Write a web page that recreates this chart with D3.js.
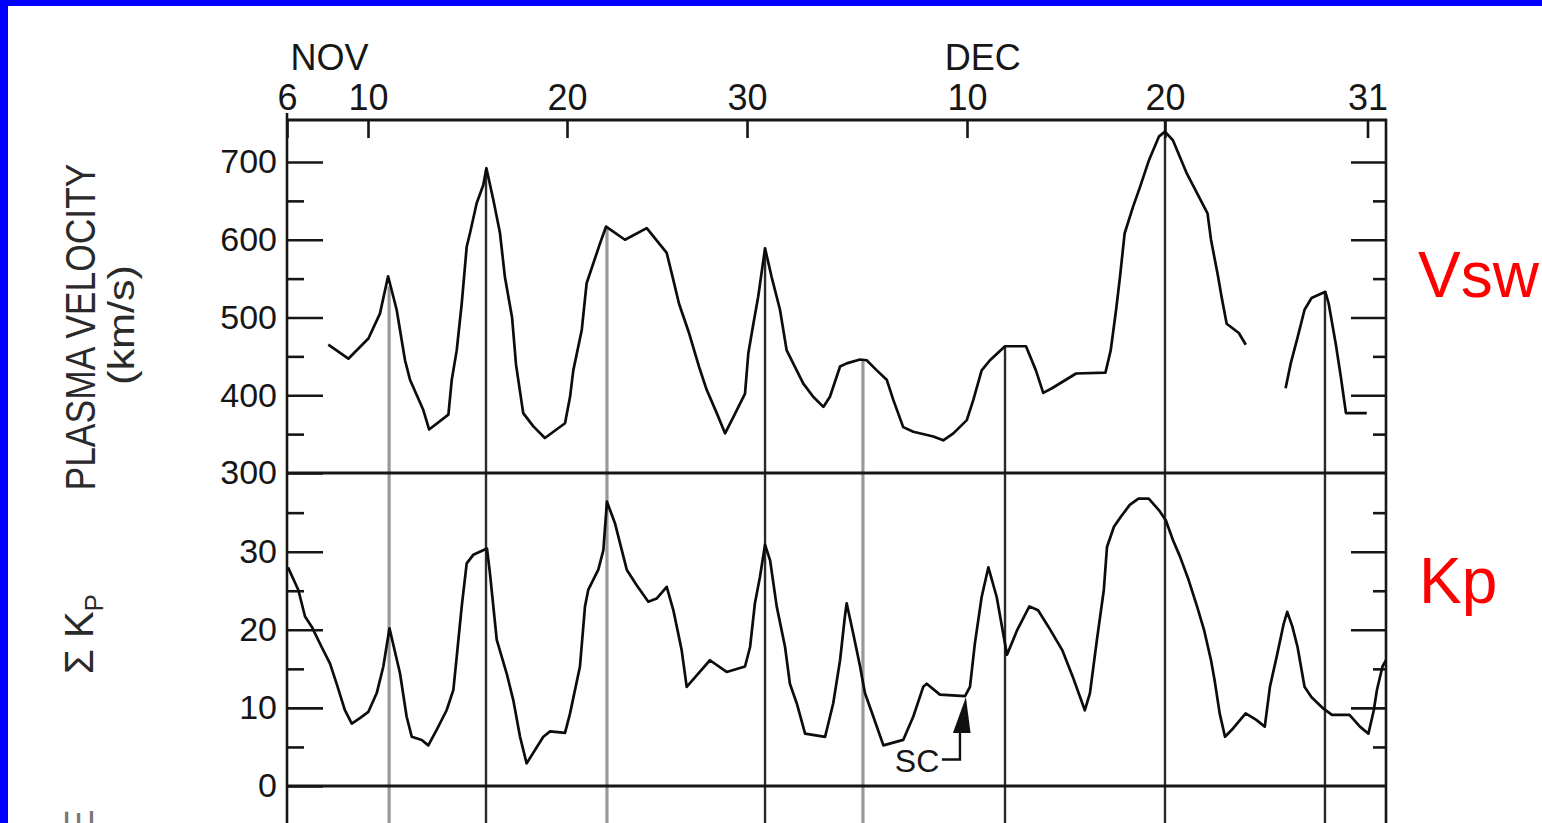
<!DOCTYPE html>
<html>
<head>
<meta charset="utf-8">
<script src="https://cdn.jsdelivr.net/npm/d3@7"></script>
<style>
html, body { margin: 0; padding: 0; background: #fff; overflow: hidden; }
svg { display: block; }
text { font-family: "Liberation Sans", Arial, sans-serif; }
</style>
</head>
<body>
<div id="frame"></div>
<script>

// day 0 = Nov 6; the scanned time axis is not quite uniform, so the scale is calibrated on the labelled days
var dayAnchors = [0, 4, 14, 24, 34, 44, 55, 56];
var dayPixels = [287, 368, 567, 747, 967, 1165, 1367.5, 1386];

var dateTicks = [0, 4, 14, 24, 34, 44, 55];
var dateLabels = ["6", "10", "20", "30", "10", "20", "31"];
var months = ["NOV", "DEC"];
var monthDays = [2.1, 34.8];

var vTicks = [300, 400, 500, 600, 700];
var vMinor = [350, 450, 550, 650];
var kpTicks = [0, 10, 20, 30];
var kpMinor = [5, 15, 25, 35];

// plasma velocity (km/s), null = data gap
var vswDay = [2.04, 3.03, 4.02, 4.60, 5.01, 5.44, 5.86, 6.11, 6.78, 7.07,
  8.04, 8.21, 8.46, 8.71, 8.96, 9.13, 9.46, 9.79, 9.95, 10.30,
  10.63, 10.88, 11.24, 11.44, 11.80, 12.31, 12.89, 13.90, 14.17, 14.35,
  14.82, 15.09, 15.83, 16.17, 17.22, 18.43, 19.54, 19.89, 20.22, 20.78,
  21.33, 21.76, 22.32, 22.78, 23.24, 23.89, 24.06, 24.29, 24.51, 24.82,
  25.12, 25.50, 25.80, 26.10, 26.56, 27.01, 27.47, 27.77, 28.23, 28.53,
  29.14, 29.44, 29.90, 30.35, 30.65, 31.10, 31.56, 32.47, 32.92, 33.38,
  33.99, 34.32, 34.74, 35.16, 35.92, 36.98, 37.48, 37.85, 38.29, 39.51,
  40.99, 41.26, 41.53, 41.73, 41.96, 42.38, 42.74, 43.20, 43.70, 44.00,
  44.43, 45.19, 45.74, 46.31, 46.50, 46.88, 47.07, 47.35, 48.01, 48.39,
  49.5, 50.55, 50.83, 51.21, 51.58, 51.96, 52.71, 52.89, 53.27, 53.55, 53.83, 54.96];
var vswVal = [465, 447, 473, 505, 553, 510, 445, 420, 381, 356,
  375, 420, 458, 518, 591, 609, 647, 670, 692, 651,
  609, 552, 500, 439, 377, 360, 345, 364, 398, 432,
  484, 544, 595, 617, 600, 615, 583, 550, 518, 480,
  437, 407, 377, 351, 372, 402, 454, 492, 527, 589,
  552, 510, 458, 441, 415, 398, 385, 398, 437, 441,
  446, 445, 432, 420, 394, 359, 353, 347, 342, 351,
  368, 394, 432, 445, 463, 463, 432, 403, 409, 428,
  429, 458, 510, 553, 608, 642, 668, 703, 733, 739,
  728, 685, 660, 634, 600, 553, 527, 492, 480, 465,
  null, 409, 441, 475, 510, 525, 533, 518, 467, 424, 377, 377];

// sum Kp
var kpDay = [0.05, 0.56, 0.89, 1.22, 1.71, 2.12, 2.45, 2.86, 3.20, 3.60,
  4.02, 4.44, 4.77, 5.08, 5.61, 5.94, 6.20, 6.70, 7.03, 7.45,
  7.95, 8.29, 8.46, 8.71, 8.96, 9.29, 9.98, 10.13, 10.47, 10.97,
  11.30, 11.64, 11.97, 12.81, 13.15, 13.90, 14.17, 14.72, 15.00, 15.18,
  15.74, 16.02, 16.22, 16.67, 17.32, 17.87, 18.52, 18.98, 19.54, 19.91,
  20.37, 20.65, 21.29, 21.94, 22.87, 23.89, 24.14, 24.36, 24.59, 24.82,
  25.05, 25.35, 25.73, 25.95, 26.26, 26.64, 27.55, 27.92, 28.23, 28.45,
  28.53, 28.83, 29.14, 29.36, 29.74, 30.20, 31.10, 31.56, 32.01, 32.17,
  32.77, 33.91, 34.15, 34.40, 34.74, 35.08, 35.50, 35.83, 36.02, 36.54,
  37.15, 37.59, 38.11, 38.81, 39.34, 39.95, 40.21, 40.56, 40.91, 41.07,
  41.42, 41.78, 42.22, 42.66, 43.18, 43.70, 44.05, 44.43, 44.81, 45.28,
  45.74, 46.12, 46.50, 46.69, 46.97, 47.26, 47.63, 48.38, 48.94, 49.42,
  49.70, 50.07, 50.45, 50.64, 50.92, 51.20, 51.58, 51.95, 52.61, 53.07,
  54.02, 54.59, 55.05, 55.34, 55.51, 55.81, 56.0];
var kpVal = [28.0, 25.1, 21.7, 20.4, 17.8, 15.7, 13.1, 9.7, 8.0, 8.7,
  9.5, 11.9, 15.3, 20.2, 14.4, 8.9, 6.3, 5.9, 5.2, 7.2,
  9.7, 12.3, 16.6, 23.0, 28.5, 29.6, 30.4, 27.2, 18.7, 14.4,
  11.0, 6.3, 2.9, 6.3, 7.0, 6.8, 9.3, 15.3, 23.0, 25.1,
  27.7, 30.2, 36.4, 33.6, 27.7, 25.7, 23.6, 24.0, 25.5, 22.5,
  17.4, 12.7, 14.4, 16.1, 14.6, 15.3, 17.8, 23.4, 26.8, 30.9,
  28.9, 23.0, 17.8, 13.1, 10.6, 6.7, 6.3, 10.6, 16.1, 21.7,
  23.4, 19.5, 15.3, 11.9, 8.9, 5.2, 5.9, 8.9, 12.7, 13.1,
  11.7, 11.5, 12.7, 18.3, 24.2, 28.0, 24.2, 19.5, 16.8, 20.0,
  23.0, 22.5, 20.4, 17.4, 14.0, 9.7, 11.9, 18.7, 25.1, 30.6,
  33.2, 34.5, 36.0, 36.8, 36.8, 35.3, 34.0, 31.5, 29.4, 26.4,
  23.0, 20.0, 16.1, 13.6, 9.3, 6.3, 7.2, 9.3, 8.5, 7.6,
  12.7, 16.6, 20.8, 22.3, 20.4, 17.8, 12.7, 11.4, 9.9, 9.1,
  9.1, 7.6, 6.7, 9.7, 12.3, 15.3, 16.1];

// event markers: day and the velocity where the marker starts
var eventDays = [5.06, 9.93, 16.22, 24.82, 29.27, 35.92, 44.00, 52.69];
var eventTopV = [540, 690, 615, 587, 445, 463, 754, 533];

// storm sudden commencement arrow
var scLabelDay = 31.73, scLabelKp = 1.8;
var scStem = [[32.86, 3.4], [33.68, 3.4], [33.68, 6.8]];
var scHead = [[33.36, 6.8], [34.18, 6.8], [33.95, 11.4]];


var W = 1542, H = 823;
var svg = d3.select('#frame').append('svg').attr('width', W).attr('height', H);

svg.append('rect').attr('width', W).attr('height', H).attr('fill', '#fff');

var x = d3.scaleLinear().domain(dayAnchors).range(dayPixels);
var yV = d3.scaleLinear().domain([300, 754]).range([473, 120]);
var yK = d3.scaleLinear().domain([0, 40]).range([786, 473.6]);

var ink = '#161616';

// event lines go behind everything
eventDays.forEach(function(d, i) {
  var faded = i == 0 || i == 2 || i == 4;
  svg.append('line')
    .attr('x1', x(d)).attr('x2', x(d))
    .attr('y1', yV(eventTopV[i])).attr('y2', H)
    .attr('stroke', faded ? '#999' : '#2a2a2a')
    .attr('stroke-width', faded ? 3.2 : 2.4);
});

function styleAxis(g) {
  g.select('.domain').remove();
  g.selectAll('.tick line').attr('stroke', ink).attr('stroke-width', 2.6);
  g.selectAll('.tick text').attr('fill', ink).attr('font-family', '"Liberation Sans", Arial, sans-serif');
}

// left velocity axis
svg.append('g').attr('transform', 'translate(287,0)')
  .call(d3.axisLeft(yV).tickValues(vTicks).tickSizeInner(-36).tickSizeOuter(0).tickPadding(10))
  .call(styleAxis)
  .call(function(g) { g.selectAll('.tick text').attr('font-size', 34); });
svg.append('g').attr('transform', 'translate(287,0)')
  .call(d3.axisLeft(yV).tickValues(vMinor).tickSizeInner(-17).tickSizeOuter(0).tickFormat(''))
  .call(styleAxis);

// left Kp axis
svg.append('g').attr('transform', 'translate(287,0)')
  .call(d3.axisLeft(yK).tickValues(kpTicks).tickSizeInner(-36).tickSizeOuter(0).tickPadding(10))
  .call(styleAxis)
  .call(function(g) { g.selectAll('.tick text').attr('font-size', 34); });
svg.append('g').attr('transform', 'translate(287,0)')
  .call(d3.axisLeft(yK).tickValues(kpMinor).tickSizeInner(-17).tickSizeOuter(0).tickFormat(''))
  .call(styleAxis);

// right side ticks, no labels
svg.append('g').attr('transform', 'translate(1386,0)')
  .call(d3.axisLeft(yV).tickValues(vTicks.slice(1)).tickSizeInner(35).tickSizeOuter(0).tickFormat(''))
  .call(styleAxis);
svg.append('g').attr('transform', 'translate(1386,0)')
  .call(d3.axisLeft(yV).tickValues(vMinor).tickSizeInner(13).tickSizeOuter(0).tickFormat(''))
  .call(styleAxis);
svg.append('g').attr('transform', 'translate(1386,0)')
  .call(d3.axisLeft(yK).tickValues(kpTicks.slice(1)).tickSizeInner(35).tickSizeOuter(0).tickFormat(''))
  .call(styleAxis);
svg.append('g').attr('transform', 'translate(1386,0)')
  .call(d3.axisLeft(yK).tickValues(kpMinor).tickSizeInner(13).tickSizeOuter(0).tickFormat(''))
  .call(styleAxis);

// top date axis
svg.append('g').attr('transform', 'translate(0,120)')
  .call(d3.axisTop(x).tickValues(dateTicks).tickSizeInner(-18).tickSizeOuter(0).tickPadding(10)
    .tickFormat(function(d, i) { return dateLabels[i]; }))
  .call(styleAxis)
  .call(function(g) { g.selectAll('.tick text').attr('font-size', 36); });

svg.selectAll('.month').data(months).enter().append('text')
  .attr('class', 'month')
  .attr('x', function(d, i) { return x(monthDays[i]); })
  .attr('y', 70)
  .attr('text-anchor', 'middle')
  .attr('font-size', 36)
  .attr('fill', ink)
  .text(function(d) { return d; });

// frame lines
var frame = svg.append('g').attr('stroke', ink).attr('fill', 'none');
frame.append('line').attr('x1', 287).attr('x2', 287).attr('y1', 113).attr('y2', H).attr('stroke-width', 2.6);
frame.append('line').attr('x1', 1386).attr('x2', 1386).attr('y1', 119).attr('y2', H).attr('stroke-width', 2.6);
frame.append('line').attr('x1', 287).attr('x2', 1387).attr('y1', yV(754)).attr('y2', yV(754)).attr('stroke-width', 3.2);
frame.append('line').attr('x1', 287).attr('x2', 1387).attr('y1', yV(300)).attr('y2', yV(300)).attr('stroke-width', 3.2);
frame.append('line').attr('x1', 287).attr('x2', 1387).attr('y1', yK(0)).attr('y2', yK(0)).attr('stroke-width', 2.8);

// curves
var vswData = vswDay.map(function(d, i) { return {d: d, v: vswVal[i]}; });
var kpData = kpDay.map(function(d, i) { return {d: d, v: kpVal[i]}; });

var vLine = d3.line()
  .defined(function(p) { return p.v != null; })
  .x(function(p) { return x(p.d); })
  .y(function(p) { return yV(p.v); });
var kLine = d3.line()
  .x(function(p) { return x(p.d); })
  .y(function(p) { return yK(p.v); });

svg.append('path').datum(vswData).attr('d', vLine)
  .attr('fill', 'none').attr('stroke', '#0c0c0c').attr('stroke-width', 2.7).attr('stroke-linejoin', 'round');
svg.append('path').datum(kpData).attr('d', kLine)
  .attr('fill', 'none').attr('stroke', '#0c0c0c').attr('stroke-width', 2.7).attr('stroke-linejoin', 'round');

// SC annotation
var pt = d3.line().x(function(p) { return x(p[0]); }).y(function(p) { return yK(p[1]); });
svg.append('path').attr('d', pt(scStem)).attr('fill', 'none').attr('stroke', '#111').attr('stroke-width', 2.4);
svg.append('path').attr('d', pt(scHead) + 'Z').attr('fill', '#111');
svg.append('text').attr('x', x(scLabelDay)).attr('y', yK(scLabelKp))
  .attr('text-anchor', 'middle').attr('font-size', 32).attr('fill', ink).text('SC');

// axis titles
svg.append('text').attr('transform', 'translate(95,327) rotate(-90)')
  .attr('text-anchor', 'middle').attr('font-size', 42).attr('fill', '#2a2a2a')
  .attr('textLength', 327).attr('lengthAdjust', 'spacingAndGlyphs')
  .text('PLASMA VELOCITY');
svg.append('text').attr('transform', 'translate(134,325) rotate(-90)')
  .attr('text-anchor', 'middle').attr('font-size', 36).attr('fill', '#2a2a2a')
  .attr('textLength', 120).attr('lengthAdjust', 'spacingAndGlyphs')
  .text('(km/s)');
var sk = svg.append('text').attr('transform', 'translate(93,634) rotate(-90)')
  .attr('text-anchor', 'middle').attr('font-size', 40).attr('fill', '#2a2a2a');
sk.append('tspan').text('\u03A3 K');
sk.append('tspan').attr('font-size', 26).attr('dy', 10).text('P');
// top of the next panel's label, cut by the slide edge as in the original
svg.append('text').attr('transform', 'translate(93,836) rotate(-90)')
  .attr('font-size', 40).attr('fill', '#777').text('E');

// red slide labels
svg.append('text').attr('x', 1418).attr('y', 297).attr('font-size', 64).attr('fill', '#ff0000').text('Vsw');
svg.append('text').attr('x', 1419).attr('y', 603).attr('font-size', 64).attr('fill', '#ff0000').text('Kp');

// blue slide border
svg.append('rect').attr('x', 0).attr('y', 0).attr('width', W).attr('height', 6).attr('fill', '#0000ff');
svg.append('rect').attr('x', 0).attr('y', 0).attr('width', 8).attr('height', H).attr('fill', '#0000ff');

</script>
</body>
</html>
